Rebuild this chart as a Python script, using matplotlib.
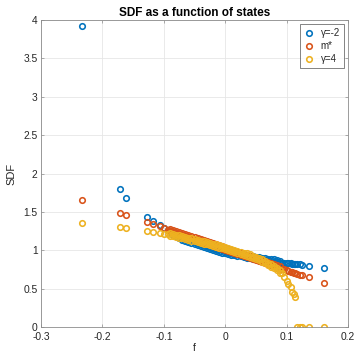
import numpy as np
import matplotlib
matplotlib.use("Agg")
import matplotlib.pyplot as plt

plt.rcParams['font.family'] = ['Liberation Sans', 'DejaVu Sans']
plt.rcParams['axes.unicode_minus'] = False

# ---- data ----
f_left = [-0.233, -0.172, -0.161, -0.128, -0.118, -0.107, -0.100, -0.093]
blue_left = [3.92, 1.80, 1.675, 1.43, 1.38, 1.33, 1.295, 1.26]
red_left = [1.65, 1.485, 1.455, 1.37, 1.34, 1.31, 1.29, 1.27]
yellow_left = [1.36, 1.30, 1.285, 1.25, 1.24, 1.225, 1.215, 1.21]

band_f = [-0.090, -0.085, -0.080, -0.075, -0.070, -0.065, -0.060, -0.055, -0.050,
          -0.045, -0.040, -0.035, -0.030, -0.025, -0.020, -0.015, -0.010, -0.005,
          0.000, 0.005, 0.010, 0.015, 0.020, 0.025, 0.030, 0.035, 0.040, 0.045,
          0.050, 0.055, 0.060, 0.065, 0.070, 0.075, 0.080, 0.085, 0.090]

blue_hi = [1.255, 1.232, 1.210, 1.190, 1.170, 1.152, 1.135, 1.120, 1.105, 1.092, 1.080,
           1.067, 1.055, 1.042, 1.030, 1.020, 1.010, 1.000, 0.990, 0.981, 0.973, 0.965,
           0.957, 0.949, 0.942, 0.935, 0.928, 0.921, 0.915, 0.909, 0.903, 0.897, 0.891,
           0.885, 0.880, 0.871, 0.863]
blue_lo = [1.225, 1.202, 1.180, 1.160, 1.140, 1.122, 1.105, 1.090, 1.075, 1.062, 1.050,
           1.037, 1.025, 1.012, 1.000, 0.990, 0.980, 0.970, 0.960, 0.951, 0.943, 0.935,
           0.927, 0.919, 0.912, 0.905, 0.898, 0.891, 0.885, 0.879, 0.873, 0.867, 0.861,
           0.855, 0.850, 0.841, 0.833]

red_hi = [1.278, 1.265, 1.251, 1.238, 1.224, 1.211, 1.197, 1.184, 1.170, 1.157, 1.143,
          1.130, 1.116, 1.103, 1.089, 1.076, 1.062, 1.049, 1.035, 1.022, 1.008, 0.995,
          0.981, 0.968, 0.954, 0.941, 0.927, 0.914, 0.900, 0.887, 0.873, 0.860, 0.846,
          0.833, 0.819, 0.805, 0.790]
red_lo = [1.248, 1.235, 1.221, 1.208, 1.194, 1.181, 1.167, 1.154, 1.140, 1.127, 1.113,
          1.100, 1.086, 1.073, 1.059, 1.046, 1.032, 1.019, 1.005, 0.992, 0.978, 0.965,
          0.951, 0.938, 0.924, 0.911, 0.897, 0.884, 0.870, 0.857, 0.843, 0.830, 0.816,
          0.803, 0.789, 0.775, 0.760]

yellow_hi = [1.220, 1.213, 1.205, 1.195, 1.185, 1.175, 1.165, 1.155, 1.145, 1.135, 1.125,
             1.115, 1.105, 1.095, 1.085, 1.075, 1.065, 1.055, 1.045, 1.033, 1.020, 1.008,
             0.995, 0.983, 0.970, 0.958, 0.945, 0.931, 0.915, 0.898, 0.880, 0.861, 0.840,
             0.818, 0.795, 0.769, 0.740]
yellow_lo = [1.190, 1.183, 1.175, 1.165, 1.155, 1.145, 1.135, 1.125, 1.115, 1.105, 1.095,
             1.085, 1.075, 1.065, 1.055, 1.045, 1.035, 1.025, 1.015, 1.003, 0.990, 0.978,
             0.965, 0.953, 0.940, 0.928, 0.915, 0.901, 0.885, 0.868, 0.850, 0.831, 0.810,
             0.788, 0.765, 0.739, 0.710]

f_right = [0.092, 0.096, 0.100, 0.103, 0.107, 0.109, 0.112, 0.113, 0.117, 0.122, 0.125,
           0.137, 0.161]
blue_right = [0.840, 0.837, 0.834, 0.832, 0.829, 0.827, 0.825, 0.824, 0.820, 0.815, 0.813,
              0.800, 0.775]
red_right = [0.760, 0.750, 0.740, 0.733, 0.722, 0.716, 0.708, 0.705, 0.693, 0.680, 0.673,
             0.645, 0.575]
yellow_right = [0.700, 0.655, 0.600, 0.560, 0.515, 0.460, 0.425, 0.390, 0.0, 0.0, 0.0,
                0.0, 0.0]

labels = ['γ=-2', 'm*', 'γ=4']
colors = ['#0072BD', '#D95319', '#EDB120']

xticks = [-0.3, -0.2, -0.1, 0, 0.1, 0.2]
xticklabels = ['-0.3', '-0.2', '-0.1', '0', '0.1', '0.2']
yticks = [0, 0.5, 1, 1.5, 2, 2.5, 3, 3.5, 4]
yticklabels = ['0', '0.5', '1', '1.5', '2', '2.5', '3', '3.5', '4']

series = [
    (blue_left, blue_hi, blue_lo, blue_right),
    (red_left, red_hi, red_lo, red_right),
    (yellow_left, yellow_hi, yellow_lo, yellow_right),
]

fig = plt.figure(figsize=(3.56, 3.55), dpi=100)
ax = fig.add_axes([41/356, 1 - 327/355, 307/356, 307/355])

for (lft, hi, lo, rgt), lab, col in zip(series, labels, colors):
    xs = list(f_left) + list(band_f) + list(band_f) + list(f_right)
    ys = list(lft) + list(hi) + list(lo) + list(rgt)
    ax.plot(xs, ys, linestyle='none', marker='o', markersize=4.0,
            markerfacecolor='none', markeredgecolor=col, markeredgewidth=1.15,
            label=lab)

ax.set_xlim(-0.3, 0.2)
ax.set_ylim(0, 4)
ax.set_xticks(xticks)
ax.set_xticklabels(xticklabels)
ax.set_yticks(yticks)
ax.set_yticklabels(yticklabels)
ax.grid(True, color='#e6e6e6', linewidth=0.6)
ax.set_axisbelow(True)
for sp in ax.spines.values():
    sp.set_color('#8c8c8c')
    sp.set_linewidth(0.6)
ax.tick_params(direction='in', length=2.5, width=0.5, colors='#8c8c8c',
               labelcolor='#262626', labelsize=7.4)
ax.tick_params(axis='x', pad=3.5)
ax.tick_params(axis='y', pad=2.5)
ax.tick_params(top=True, right=True)

ax.set_title('SDF as a function of states', fontsize=8.5, fontweight='bold',
             color='#000000', pad=3)
ax.set_xlabel('f', fontsize=7.5, color='#262626', labelpad=1)
ax.set_ylabel('SDF', fontsize=8, color='#262626', labelpad=5)

leg = ax.legend(loc='upper right', fontsize=7, frameon=True, fancybox=False,
                handlelength=1.0, handletextpad=0.7, borderpad=0.4,
                labelspacing=0.3, borderaxespad=0.45)
leg.get_frame().set_edgecolor('#262626')
leg.get_frame().set_linewidth(0.5)
for t in leg.get_texts():
    t.set_color('#262626')

fig.savefig('out.png', dpi=100)
